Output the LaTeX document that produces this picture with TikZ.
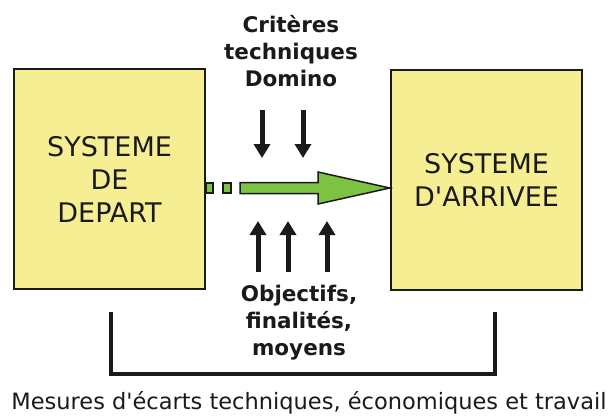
\documentclass[tikz,border=0pt]{standalone}
\usepackage{fontspec}
\setmainfont{DejaVu Sans}
\usetikzlibrary{arrows.meta}

\definecolor{boxyellow}{HTML}{F6EE92}
\definecolor{arrowgreen}{HTML}{7CC243}
\definecolor{inkblack}{HTML}{1A1A1A}

\tikzset{
  systembox/.style={draw=inkblack, line width=2.5pt, fill=boxyellow,
    minimum width=191pt, minimum height=220pt, align=center,
    text=inkblack, font=\fontsize{27}{33}\selectfont},
  boldlabel/.style={align=center, text=inkblack,
    font=\bfseries\fontsize{21.5}{27}\selectfont},
  blackarrow/.style={draw=inkblack, line width=5pt,
    -{Triangle[width=16pt,length=14pt]}},
  greenbit/.style={draw=inkblack, line width=1.5pt, fill=arrowgreen},
  bracketline/.style={draw=inkblack, line width=4pt, line join=miter}
}

\begin{document}
\begin{tikzpicture}[x=1pt, y=-1pt]
  \useasboundingbox (0,0) rectangle (613,416);

  \node[systembox] (depart) at (109.5, 179) {SYSTEME\\DE\\DEPART};
  \node[systembox] (arrivee) at (486.5, 180) {SYSTEME\\D\textquotesingle ARRIVEE};

  \node[boldlabel] (criteres) at (291, 51) {Critères\\techniques\\Domino};
  \node[boldlabel] (objectifs) at (299, 323) {Objectifs,\\finalités,\\moyens};

  \node[text=inkblack, font=\fontsize{22.5}{26}\selectfont] (mesures) at (309, 403)
    {Mesures d\textquotesingle écarts techniques, économiques et travail};

  % fleches noires
  \coordinate (down1a) at (262, 110);
  \coordinate (down1b) at (262, 158);
  \coordinate (down2a) at (303, 110);
  \coordinate (down2b) at (303, 158);
  \draw[blackarrow] (down1a) to (down1b);
  \draw[blackarrow] (down2a) to (down2b);

  \coordinate (up1a) at (258, 272);
  \coordinate (up1b) at (258, 221);
  \coordinate (up2a) at (288, 272);
  \coordinate (up2b) at (288, 221);
  \coordinate (up3a) at (327, 272);
  \coordinate (up3b) at (327, 221);
  \draw[blackarrow] (up1a) to (up1b);
  \draw[blackarrow] (up2a) to (up2b);
  \draw[blackarrow] (up3a) to (up3b);

  % fleche verte
  \node[greenbit, minimum width=7pt, minimum height=10pt, inner sep=0pt] (bit1) at (209.5, 188) {};
  \node[greenbit, minimum width=8pt, minimum height=10pt, inner sep=0pt] (bit2) at (227, 188) {};
  \draw[greenbit, line join=miter] (240, 182.5) -- (318, 182.5) -- (318, 172)
    -- (arrivee.west |- 0,188) -- (318, 204) -- (318, 193.5) -- (240, 193.5) -- cycle;

  % accolade du bas
  \coordinate (bracketL) at (111, 312);
  \coordinate (bracketR) at (495, 312);
  \draw[bracketline] (bracketL) -- (111, 374) -- (495, 374) -- (bracketR);
\end{tikzpicture}
\end{document}
